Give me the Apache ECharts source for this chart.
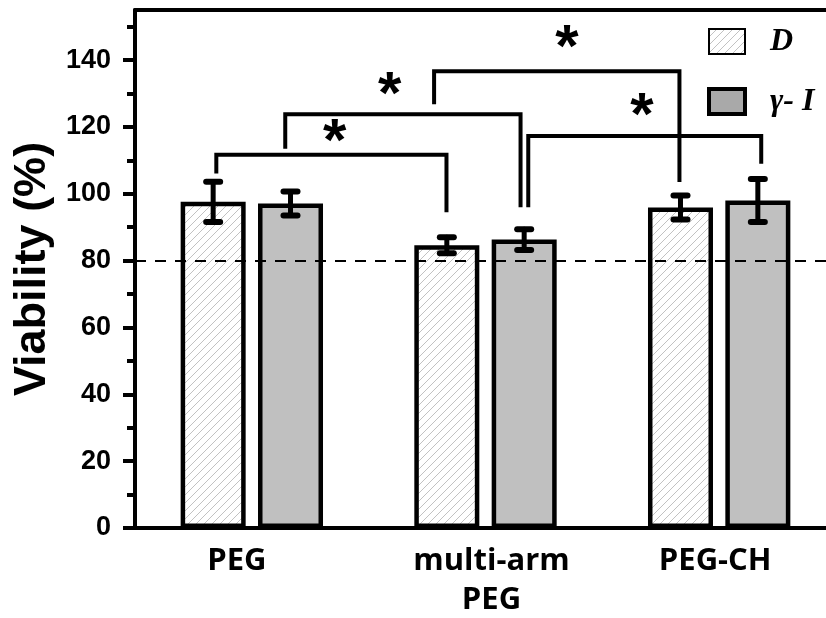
<!DOCTYPE html>
<html>
<head>
<meta charset="utf-8">
<script src="https://cdn.jsdelivr.net/npm/echarts@6/dist/echarts.min.js"></script>
<style>
  html, body { margin: 0; padding: 0; background: #fff; }
  #chart { width: 826px; height: 618px; }
</style>
</head>
<body>
<div id="chart"></div>
<script>
// data
const categories = ['PEG', 'multi-arm\nPEG', 'PEG-CH']
const dValues = [97.6, 84.6, 95.9]
const dErrors = [6.0, 2.4, 3.6]
const giValues = [97.1, 86.3, 98.0]
const giErrors = [3.6, 3.1, 6.4]
const threshold = 80
const yTicks = [0, 20, 40, 60, 80, 100, 120, 140]
const yMinorTicks = [10, 30, 50, 70, 90, 110, 130, 150]

// significance brackets: [xLeft, xRight, yTop, yLeftEnd, yRightEnd] (x in category units)
const brackets = [
  [-0.152, 0.833, 111.7, 106.1, 94.5],
  [0.143, 1.150, 123.8, 113.5, 96.0],
  [0.780, 1.830, 136.7, 126.8, 103.5],
  [1.183, 2.180, 117.3, 96.0, 109.0]
]
const starX = [0.354, 0.590, 1.348, 1.669]
const starY = [118.5, 132.5, 146.5, 126.2]

const BAR_W = 65
const BAR_GAP = 0.19
const BAR_OFF = BAR_W * (1 + BAR_GAP) / 2

function hatch() {
  const c = document.createElement('canvas')
  c.width = 8; c.height = 8
  const g = c.getContext('2d')
  g.fillStyle = '#fff'
  g.fillRect(0, 0, 8, 8)
  g.strokeStyle = '#c2c2c2'
  g.lineWidth = 1
  g.beginPath()
  g.moveTo(0, 8); g.lineTo(8, 0)
  g.moveTo(-2, 2); g.lineTo(2, -2)
  g.moveTo(6, 10); g.lineTo(10, 6)
  g.stroke()
  return c
}

function errRender(sign) {
  return (params, api) => {
    const c = api.value(0), v = api.value(1), e = api.value(2)
    const top = api.coord([c, v + e])
    const bot = api.coord([c, v - e])
    const x = top[0] + sign * BAR_OFF
    const ln = (x1, y1, x2, y2, w) => ({
      type: 'line',
      shape: { x1, y1, x2, y2 },
      style: { stroke: '#000', lineWidth: w, lineCap: 'round' }
    })
    return {
      type: 'group',
      children: [
        ln(x, top[1], x, bot[1], 5),
        ln(x - 7, top[1], x + 7, top[1], 6),
        ln(x - 7, bot[1], x + 7, bot[1], 6)
      ]
    }
  }
}

const chart = echarts.init(document.getElementById('chart'))

chart.setOption({
  animation: false,
  backgroundColor: '#fff',
  // plot frame runs past the right edge of the picture, as in the original
  grid: { left: 135, right: -10, top: 10, bottom: 90, outerBoundsMode: 'none' },
  legend: {
    orient: 'vertical',
    left: 702,
    top: 20,
    itemWidth: 36,
    itemHeight: 25,
    itemGap: 27,
    icon: 'rect',
    textStyle: {
      fontFamily: 'Liberation Serif',
      fontStyle: 'italic',
      fontWeight: 'bold',
      fontSize: 32,
      lineHeight: 33,
      color: '#000',
      padding: [0, 0, 0, 20]
    },
    data: [
      { name: 'D', itemStyle: { borderWidth: 2, borderColor: '#000' } },
      { name: 'γ- I', itemStyle: { color: '#a9a9a9', borderWidth: 4, borderColor: '#000' } }
    ]
  },
  xAxis: [
    {
      type: 'category',
      data: [
        { value: categories[0], textStyle: { padding: [0, 30, 0, 0] } },
        { value: categories[1], textStyle: { padding: [0, 0, 0, 12] } },
        { value: categories[2], textStyle: { padding: [0, 8, 0, 0] } }
      ],
      axisLine: { onZero: false, lineStyle: { color: '#000', width: 4 } },
      axisTick: { show: false },
      axisLabel: {
        margin: 14,
        fontFamily: 'Open Sans',
        fontWeight: 'bold',
        fontSize: 31,
        lineHeight: 39,
        color: '#000'
      }
    },
    {
      type: 'value',
      position: 'top',
      min: -0.5,
      max: 2.5,
      axisLine: { show: true, onZero: false, lineStyle: { color: '#000', width: 4 } },
      axisTick: { show: false },
      axisLabel: { show: false },
      splitLine: { show: false }
    }
  ],
  yAxis: [
    {
      type: 'value',
      position: 'left',
      min: 0,
      max: 155,
      name: 'Viability (%)',
      nameLocation: 'middle',
      nameGap: 76,
      nameTextStyle: {
        fontFamily: 'Liberation Sans',
        fontWeight: 'bold',
        fontSize: 45,
        color: '#000'
      },
      axisLine: { show: true, onZero: false, lineStyle: { color: '#000', width: 4 } },
      axisTick: {
        show: true,
        customValues: yTicks,
        length: 12,
        lineStyle: { color: '#000', width: 4 }
      },
      axisLabel: {
        customValues: yTicks,
        margin: 24,
        fontFamily: 'Liberation Sans',
        fontWeight: 'bold',
        fontSize: 27,
        color: '#000'
      },
      splitLine: { show: false }
    },
    {
      type: 'value',
      position: 'left',
      offset: 0,
      min: 0,
      max: 155,
      axisLine: { show: false, onZero: false },
      axisTick: {
        show: true,
        customValues: yMinorTicks,
        length: 8,
        lineStyle: { color: '#000', width: 4 }
      },
      axisLabel: { show: false },
      splitLine: { show: false }
    }
  ],
  series: [
    {
      name: 'D',
      type: 'bar',
      data: dValues,
      barWidth: BAR_W,
      barGap: (BAR_GAP * 100) + '%',
      itemStyle: {
        color: { image: hatch(), repeat: 'repeat' },
        borderColor: '#000',
        borderWidth: 4.5
      }
    },
    {
      name: 'γ- I',
      type: 'bar',
      data: giValues,
      barWidth: BAR_W,
      itemStyle: {
        color: '#c0c0c0',
        borderColor: '#000',
        borderWidth: 4.5
      }
    },
    {
      type: 'custom',
      renderItem: errRender(-1),
      data: dValues.map((v, i) => [i, v, dErrors[i]]),
      z: 5
    },
    {
      type: 'custom',
      renderItem: errRender(1),
      data: giValues.map((v, i) => [i, v, giErrors[i]]),
      z: 5
    },
    {
      type: 'custom',
      xAxisIndex: 1,
      z: 6,
      renderItem: (params, api) => {
        const b = brackets[params.dataIndex]
        const p1 = api.coord([b[0], b[3]])
        const p2 = api.coord([b[0], b[2]])
        const p3 = api.coord([b[1], b[2]])
        const p4 = api.coord([b[1], b[4]])
        return {
          type: 'polyline',
          shape: { points: [p1, p2, p3, p4] },
          style: { stroke: '#000', lineWidth: 4, fill: null, lineJoin: 'miter' }
        }
      },
      data: brackets.map(b => [b[0], b[2]]),
      markLine: {
        silent: true,
        symbol: 'none',
        label: { show: false },
        lineStyle: { color: '#000', type: [11, 9], width: 2 },
        data: [{ yAxis: threshold }]
      }
    },
    {
      type: 'custom',
      xAxisIndex: 1,
      z: 6,
      renderItem: (params, api) => {
        const p = api.coord([api.value(0), api.value(1)])
        return {
          type: 'text',
          x: p[0],
          y: p[1] + 11,
          style: {
            text: '*',
            font: 'bold 60px "Liberation Sans"',
            fill: '#000',
            textAlign: 'center',
            textVerticalAlign: 'middle'
          }
        }
      },
      data: starX.map((x, i) => [x, starY[i]])
    }
  ]
})
</script>
</body>
</html>
